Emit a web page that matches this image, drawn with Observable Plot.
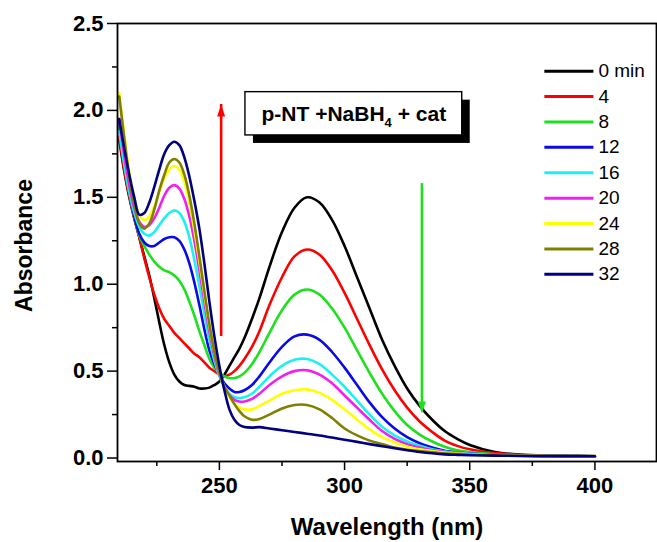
<!DOCTYPE html>
<html>
<head>
<meta charset="utf-8">
<script src="https://cdn.jsdelivr.net/npm/d3@7"></script>
<script src="https://cdn.jsdelivr.net/npm/@observablehq/plot@0.6"></script>
<style>
  html, body { margin: 0; padding: 0; background: #fff; }
  #chart { width: 657px; height: 542px; }
</style>
</head>
<body>
<div id="chart"></div>
<script>
// UV-vis spectra of p-nitrothiophenol reduction (NaBH4 + catalyst), sampled over time
const wavelength = [210,212,214,216,218,220,222,224,226,228,230,232,234,236,238,240,242,244,246,248,
  250,252,254,256,258,260,263,266,270,275,280,285,290,295,300,305,310,315,320,325,330,335,340,345,350,360,370,380,390,400];

const times = ["0 min", "4", "8", "12", "16", "20", "24", "28", "32"];
const colors = ["#000000", "#ff0000", "#1ee01e", "#0a0ae6", "#1ef0f0", "#f020f0", "#ffff00", "#808000", "#000080"];

const abs0  = [1.83,1.65,1.50,1.38,1.27,1.16,1.05,0.92,0.78,0.65,0.55,0.48,0.44,0.42,0.415,0.41,0.40,0.40,0.405,0.42,
  0.44,0.48,0.53,0.58,0.63,0.69,0.80,0.92,1.10,1.30,1.44,1.50,1.47,1.37,1.22,1.04,0.86,0.68,0.53,0.40,
  0.30,0.22,0.155,0.11,0.075,0.035,0.02,0.015,0.012,0.01];
const abs4  = [1.85,1.66,1.51,1.38,1.27,1.15,1.04,0.94,0.86,0.80,0.76,0.72,0.69,0.66,0.63,0.60,0.58,0.55,0.52,0.50,
  0.48,0.47,0.48,0.50,0.53,0.57,0.64,0.73,0.88,1.04,1.16,1.20,1.17,1.08,0.95,0.80,0.65,0.51,0.39,0.29,
  0.21,0.15,0.10,0.07,0.05,0.028,0.018,0.014,0.012,0.011];
const abs8  = [1.90,1.70,1.53,1.39,1.28,1.22,1.17,1.13,1.10,1.08,1.07,1.05,1.02,0.97,0.90,0.82,0.73,0.65,0.57,0.52,
  0.49,0.47,0.46,0.46,0.47,0.49,0.54,0.61,0.72,0.85,0.94,0.97,0.94,0.86,0.75,0.62,0.49,0.37,0.27,0.19,
  0.135,0.095,0.065,0.045,0.035,0.022,0.016,0.013,0.012,0.011];
const abs12 = [1.93,1.72,1.54,1.39,1.29,1.24,1.22,1.22,1.24,1.26,1.27,1.27,1.25,1.20,1.12,1.01,0.88,0.74,0.62,0.54,
  0.48,0.43,0.40,0.38,0.38,0.39,0.42,0.47,0.55,0.64,0.70,0.71,0.68,0.61,0.52,0.42,0.32,0.235,0.17,0.12,
  0.085,0.06,0.042,0.032,0.026,0.018,0.014,0.012,0.011,0.01];
const abs16 = [1.88,1.69,1.53,1.41,1.33,1.29,1.28,1.30,1.34,1.38,1.41,1.425,1.41,1.36,1.27,1.14,0.99,0.83,0.68,0.56,
  0.47,0.41,0.37,0.35,0.345,0.35,0.37,0.41,0.47,0.53,0.565,0.57,0.54,0.48,0.41,0.33,0.25,0.18,0.13,0.095,
  0.07,0.05,0.038,0.03,0.024,0.017,0.013,0.012,0.011,0.01];
const abs20 = [1.95,1.74,1.57,1.44,1.36,1.33,1.34,1.38,1.44,1.51,1.555,1.57,1.55,1.49,1.39,1.25,1.08,0.90,0.73,0.59,
  0.48,0.41,0.36,0.335,0.325,0.325,0.34,0.37,0.42,0.47,0.50,0.505,0.48,0.43,0.36,0.29,0.22,0.155,0.11,0.08,
  0.06,0.045,0.035,0.027,0.022,0.016,0.013,0.012,0.011,0.01];
const abs24 = [2.10,1.86,1.65,1.50,1.40,1.37,1.39,1.45,1.53,1.61,1.66,1.68,1.66,1.59,1.47,1.31,1.13,0.94,0.76,0.61,
  0.49,0.41,0.35,0.31,0.29,0.28,0.28,0.30,0.33,0.37,0.39,0.395,0.375,0.335,0.28,0.22,0.165,0.12,0.09,0.065,
  0.05,0.04,0.032,0.026,0.022,0.016,0.013,0.012,0.011,0.01];
const abs28 = [2.08,1.84,1.62,1.46,1.35,1.32,1.35,1.43,1.54,1.63,1.70,1.72,1.70,1.63,1.51,1.35,1.16,0.96,0.77,0.61,
  0.49,0.41,0.36,0.31,0.27,0.24,0.22,0.225,0.25,0.285,0.305,0.305,0.28,0.23,0.17,0.13,0.10,0.08,0.06,0.048,
  0.04,0.033,0.027,0.023,0.02,0.015,0.013,0.012,0.011,0.01];
const abs32 = [1.95,1.78,1.63,1.50,1.40,1.41,1.47,1.56,1.66,1.75,1.80,1.82,1.80,1.73,1.62,1.48,1.32,1.12,0.90,0.70,
  0.53,0.39,0.28,0.22,0.19,0.178,0.175,0.178,0.17,0.16,0.15,0.14,0.13,0.118,0.105,0.093,0.08,0.068,0.056,0.045,
  0.035,0.027,0.021,0.018,0.016,0.014,0.012,0.011,0.011,0.01];

const spectra = [abs0, abs4, abs8, abs12, abs16, abs20, abs24, abs28, abs32];

// axis ticks
const xMajor = [250, 300, 350, 400];
const xMinor = [225, 275, 325, 375];
const yMajor = [0, 0.5, 1.0, 1.5, 2.0, 2.5];
const yMinor = [0.25, 0.75, 1.25, 1.75, 2.25];

// annotation: reaction label and trend arrows
const boxLabel = "p-NT +NaBH4 + cat";
const boxExtent = {x1: 260.4, x2: 347.0, y1: 1.856, y2: 2.105};
const arrows = [
  {x: 250.7, from: 0.745, to: 2.034, color: "#ff0000"},
  {x: 330.9, from: 1.579, to: 0.256, color: "#1ee01e"}
];

// legend placement (data units)
const legendX = [379.8, 399.4];
const legendTextX = 401.4;
const legendTop = 2.2256;
const legendStep = 0.1461;

const font = "'Liberation Sans', Arial, Helvetica, sans-serif";

const rows = spectra.map((vals, i) => vals.map((a, j) => ({wl: wavelength[j], a, i})));
const legendRows = times.map((t, i) => ({t, i, y: legendTop - i * legendStep}));

// narrow filled arrowhead, apex at the origin pointing up
const arrowHead = {
  draw(ctx) {
    ctx.moveTo(0, 0);
    ctx.lineTo(4, 12);
    ctx.lineTo(-4, 12);
    ctx.closePath();
  }
};

const marks = [];

rows.forEach((r, i) => {
  marks.push(Plot.line(r, {x: "wl", y: "a", stroke: colors[i], strokeWidth: 2.6, curve: "catmull-rom"}));
});

// trend arrows
arrows.forEach(a => {
  const up = a.to > a.from;
  marks.push(Plot.ruleX([a.x], {y1: a.from, y2: a.to, stroke: a.color, strokeWidth: 2.6,
    insetTop: up ? 8 : 0, insetBottom: up ? 0 : 8}));
  marks.push(Plot.dot([a], {x: "x", y: "to", symbol: arrowHead, fill: a.color, stroke: null, rotate: up ? 0 : 180}));
});

// label box with drop shadow
marks.push(Plot.rect([boxExtent], {x1: "x1", x2: "x2", y1: "y1", y2: "y2", fill: "#000", dx: 8, dy: 8}));
marks.push(Plot.rect([boxExtent], {x1: "x1", x2: "x2", y1: "y1", y2: "y2", fill: "#fff", stroke: "#000", strokeWidth: 1.4}));
marks.push(Plot.text([boxLabel], {
  x: (boxExtent.x1 + boxExtent.x2) / 2, y: (boxExtent.y1 + boxExtent.y2) / 2,
  text: d => d, fontSize: 21, fontWeight: "bold", fill: "#000", lineAnchor: "middle"
}));

// legend
marks.push(Plot.link(legendRows, {x1: legendX[0], x2: legendX[1], y1: "y", y2: "y",
  stroke: d => colors[d.i], strokeWidth: 3}));
marks.push(Plot.text(legendRows, {x: legendTextX, y: "y", text: "t", textAnchor: "start",
  lineAnchor: "middle", fontSize: 19, fill: "#000"}));

// axes
marks.push(Plot.axisX(xMajor, {tickSize: 9, tickPadding: 7, tickFormat: d3.format("d"),
  fontSize: 22, fontWeight: "bold", strokeWidth: 1.5, label: null}));
marks.push(Plot.axisX(xMinor, {tickSize: 5, tickFormat: () => "", strokeWidth: 1.5, label: null}));
marks.push(Plot.axisY(yMajor, {tickSize: 10, tickPadding: 4, tickFormat: d3.format(".1f"),
  fontSize: 22, fontWeight: "bold", strokeWidth: 1.5, label: null}));
marks.push(Plot.axisY(yMinor, {tickSize: 5, tickFormat: () => "", strokeWidth: 1.5, label: null}));
marks.push(Plot.frame({stroke: "#000", strokeWidth: 1.8}));

// axis titles
marks.push(Plot.text(["Wavelength (nm)"], {frameAnchor: "bottom", dy: 66, text: d => d,
  textAnchor: "middle", fontSize: 24, fontWeight: "bold", fill: "#000", lineAnchor: "middle"}));
marks.push(Plot.text(["Absorbance"], {frameAnchor: "left", dx: -93, dy: 3, rotate: -90, text: d => d,
  textAnchor: "middle", fontSize: 23, fontWeight: "bold", fill: "#000", lineAnchor: "middle"}));

const chart = Plot.plot({
  width: 657,
  height: 542,
  marginLeft: 117,
  marginRight: 1,
  marginTop: 23,
  marginBottom: 81,
  x: {domain: [209.3, 424.6]},
  y: {domain: [-0.02, 2.5]},
  style: {fontFamily: font, color: "#000", background: "#fff", overflow: "visible"},
  marks
});

// render the "4" of NaBH4 as a subscript
chart.querySelectorAll("text").forEach(t => {
  if (t.textContent === boxLabel) {
    t.textContent = "";
    const ns = "http://www.w3.org/2000/svg";
    const parts = [["p-NT +NaBH", null, null], ["4", "6", "13"], ["\u00a0+ cat", "-6", null]];
    parts.forEach(([s, dy, fs]) => {
      const sp = document.createElementNS(ns, "tspan");
      sp.textContent = s;
      if (dy) sp.setAttribute("dy", dy);
      if (fs) sp.setAttribute("font-size", fs);
      t.appendChild(sp);
    });
  }
});

document.getElementById("chart").appendChild(chart);
</script>
</body>
</html>
